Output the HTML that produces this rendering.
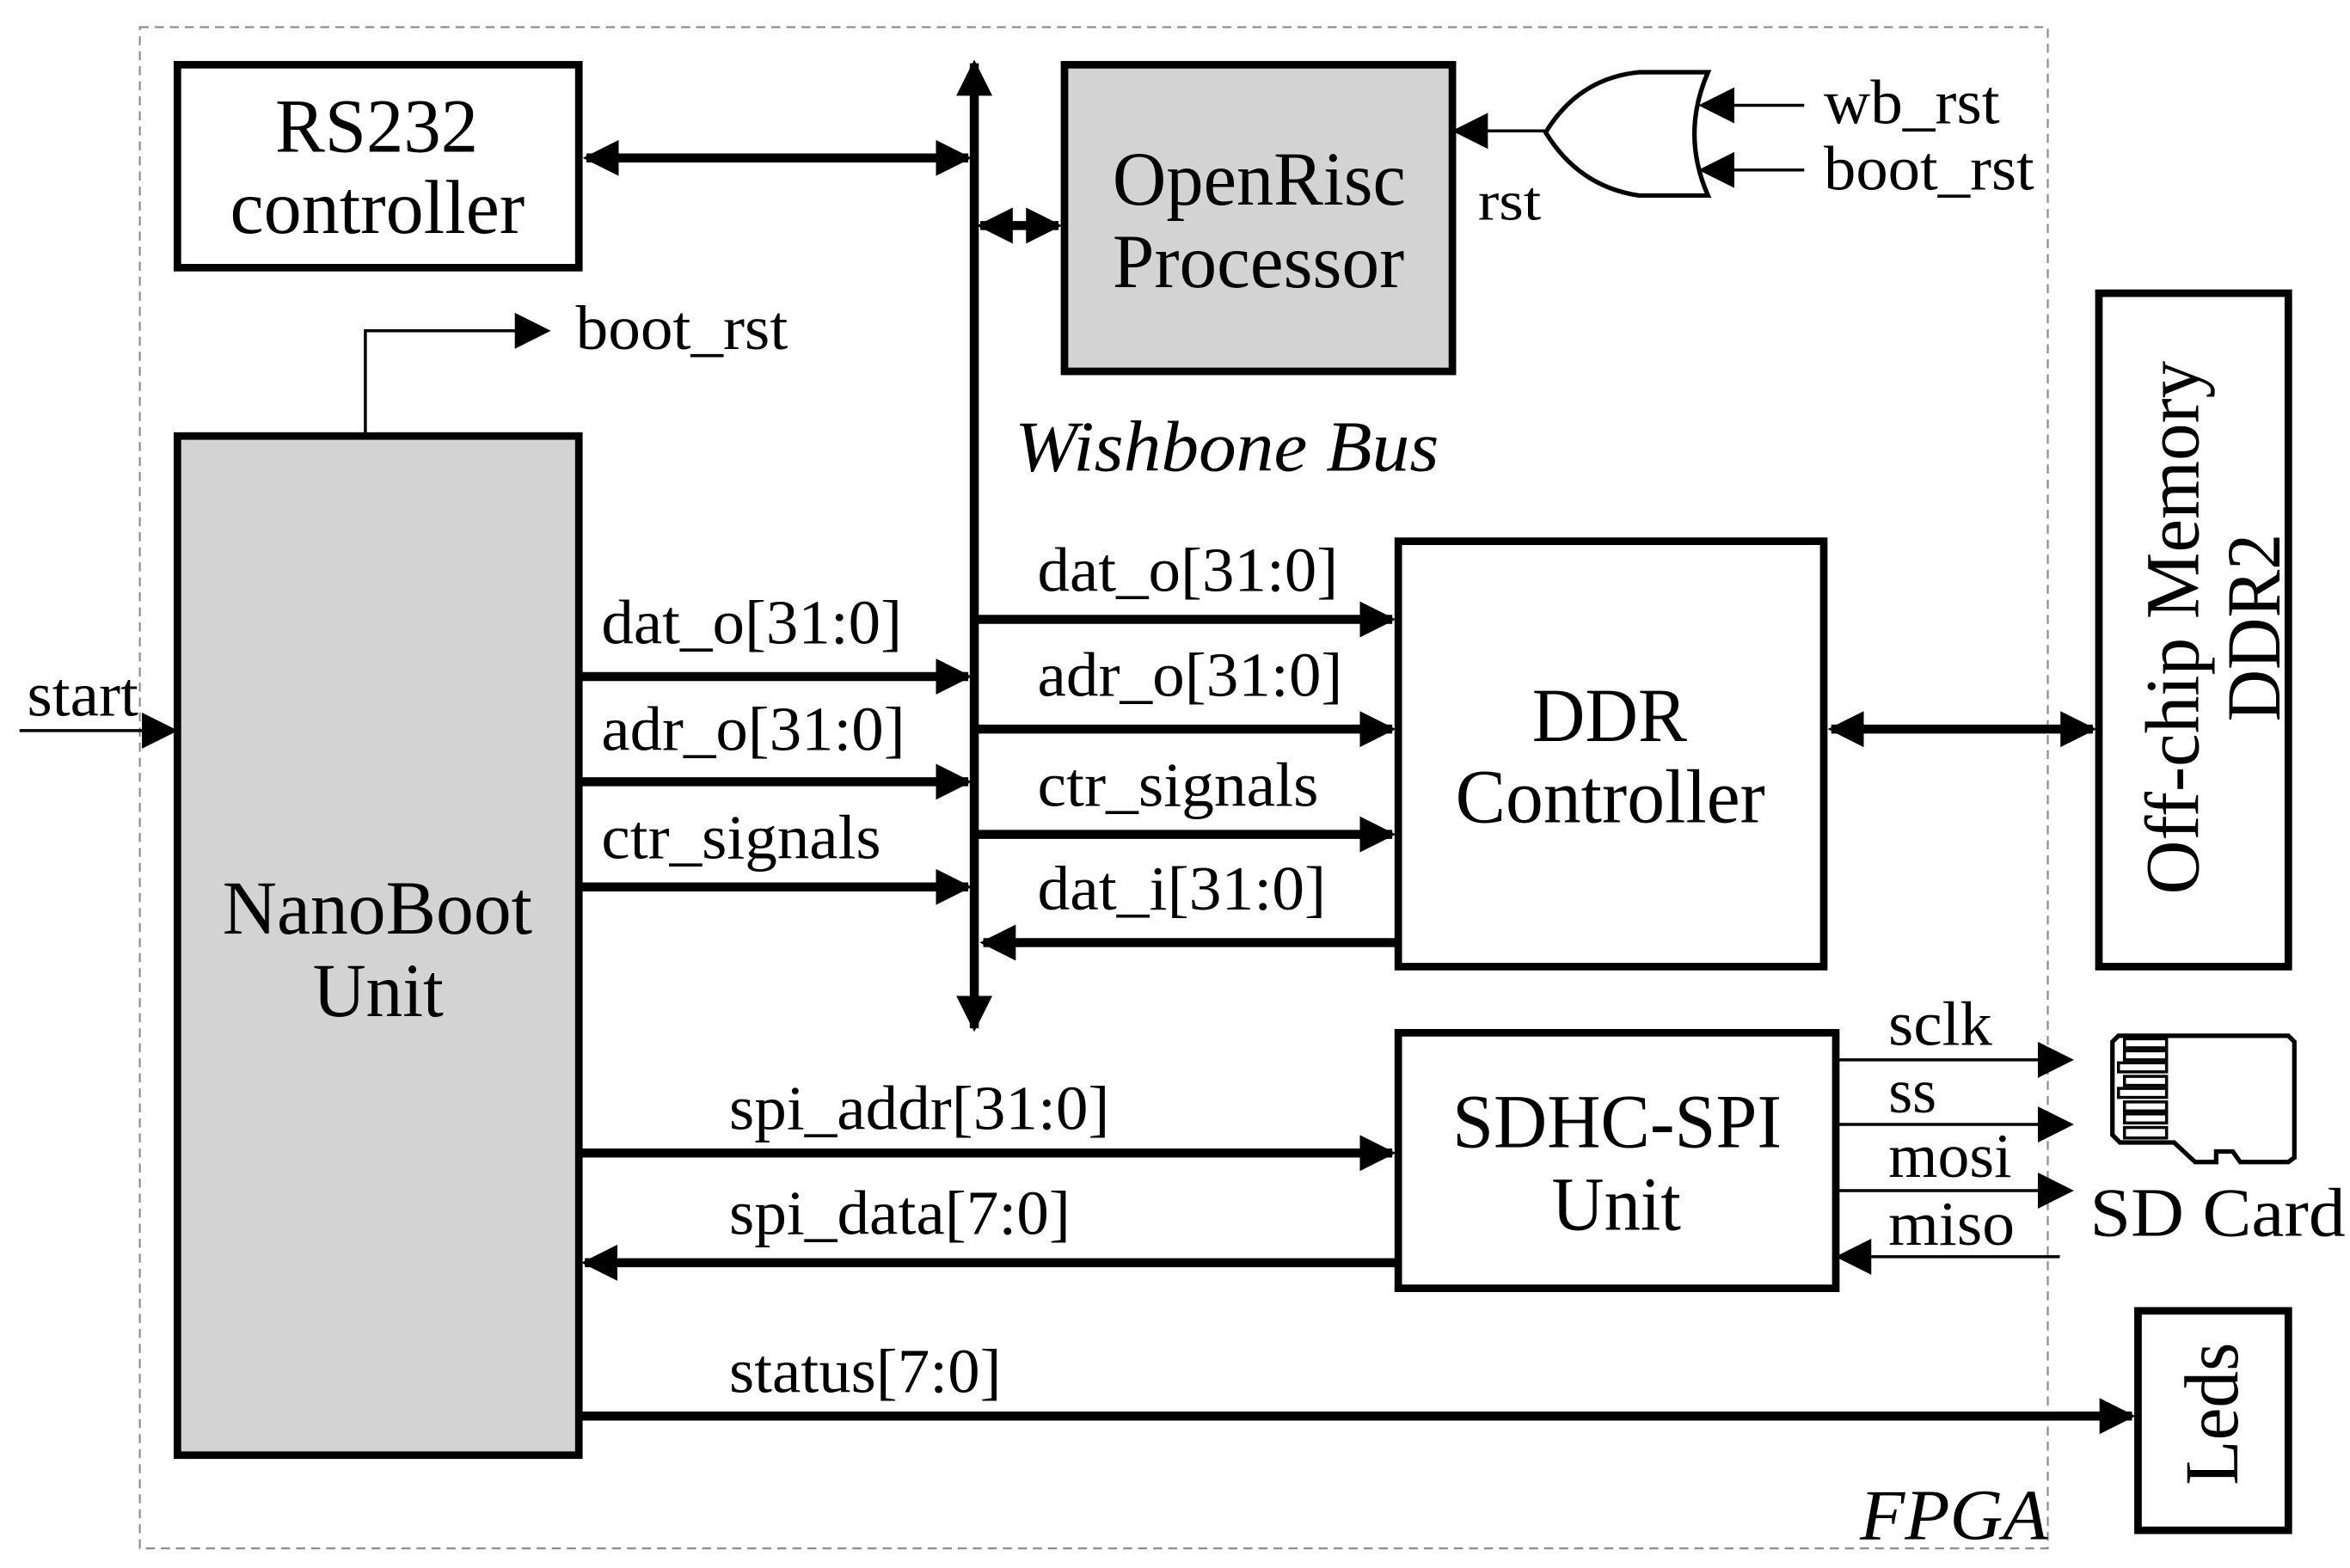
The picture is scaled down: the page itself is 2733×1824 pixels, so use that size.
<!DOCTYPE html>
<html><head><meta charset="utf-8"><style>
html,body{margin:0;padding:0;background:#fff;}
svg{display:block;}
text{font-family:"Liberation Serif",serif;fill:#000;}
</style></head><body>
<svg width="2733" height="1824" viewBox="0 0 1563 1043" xmlns="http://www.w3.org/2000/svg">
<defs>
<marker id="a" viewBox="0 0 10 10" refX="9" refY="5" markerWidth="4" markerHeight="4" orient="auto-start-reverse" markerUnits="strokeWidth"><path d="M0,0 L10,5 L0,10 z" fill="#000"/></marker>
<marker id="t" viewBox="0 0 10 10" refX="9" refY="5" markerWidth="12" markerHeight="12" orient="auto-start-reverse" markerUnits="strokeWidth"><path d="M0,0 L10,5 L0,10 z" fill="#000"/></marker>
</defs>
<rect x="93" y="18" width="1269" height="1012" fill="none" stroke="#888" stroke-width="1.2" stroke-dasharray="6,4"/>
<g stroke="#000" stroke-width="5">
<rect x="118" y="43" width="267" height="135" fill="#fff"/>
<rect x="708" y="43" width="258" height="204" fill="#d3d3d3"/>
<rect x="118" y="290" width="267" height="678" fill="#d3d3d3"/>
<rect x="930" y="360" width="283" height="283" fill="#fff"/>
<rect x="1396" y="195" width="126" height="448" fill="#fff"/>
<rect x="930" y="687" width="291" height="170" fill="#fff"/>
<rect x="1422" y="872" width="100" height="146" fill="#fff"/>
</g>
<g stroke="#000" stroke-width="6" fill="none">
<line x1="648" y1="42" x2="648" y2="684" marker-start="url(#a)" marker-end="url(#a)"/>
<line x1="390" y1="105" x2="644" y2="105" marker-start="url(#a)" marker-end="url(#a)"/>
<line x1="652" y1="150" x2="704" y2="150" marker-start="url(#a)" marker-end="url(#a)"/>
<line x1="385" y1="450" x2="644" y2="450" marker-end="url(#a)"/>
<line x1="385" y1="520" x2="644" y2="520" marker-end="url(#a)"/>
<line x1="385" y1="590" x2="644" y2="590" marker-end="url(#a)"/>
<line x1="650" y1="412" x2="926" y2="412" marker-end="url(#a)"/>
<line x1="650" y1="485" x2="926" y2="485" marker-end="url(#a)"/>
<line x1="650" y1="555" x2="926" y2="555" marker-end="url(#a)"/>
<line x1="930" y1="627" x2="654" y2="627" marker-end="url(#a)"/>
<line x1="1218" y1="485" x2="1392" y2="485" marker-start="url(#a)" marker-end="url(#a)"/>
<line x1="385" y1="767" x2="926" y2="767" marker-end="url(#a)"/>
<line x1="930" y1="840" x2="389" y2="840" marker-end="url(#a)"/>
<line x1="385" y1="942" x2="1418" y2="942" marker-end="url(#a)"/>
</g>
<g stroke="#000" stroke-width="2" fill="none">
<line x1="13" y1="486" x2="116" y2="486" marker-end="url(#t)"/>
<polyline points="243,290 243,220 364,220" marker-end="url(#t)"/>
<line x1="1028" y1="87" x2="968" y2="87" marker-end="url(#t)"/>
<line x1="1200" y1="70" x2="1132" y2="70" marker-end="url(#t)"/>
<line x1="1200" y1="113" x2="1132" y2="113" marker-end="url(#t)"/>
<line x1="1221" y1="705" x2="1377" y2="705" marker-end="url(#t)"/>
<line x1="1221" y1="748" x2="1377" y2="748" marker-end="url(#t)"/>
<line x1="1221" y1="792" x2="1377" y2="792" marker-end="url(#t)"/>
<line x1="1370" y1="836" x2="1223" y2="836" marker-end="url(#t)"/>
</g>
<path d="M1028,88 Q1050,52 1090,48 L1136,48 Q1118,89 1136,130 L1090,130 Q1050,124 1028,88 Z" fill="#fff" stroke="#000" stroke-width="3"/>
<g fill="none" stroke="#000" stroke-width="3">
<path d="M1409,689 L1522,689 L1526,693 L1526,770 L1522,773 L1490,773 L1485,766 L1474,766 L1474,773 L1460,773 L1446,760 L1410,760 L1405,755 L1405,693 Z"/>
</g>
<g fill="#fff" stroke="#000" stroke-width="2">
<rect x="1413" y="691" width="28" height="6"/>
<rect x="1413" y="699" width="28" height="6"/>
<rect x="1409" y="707" width="32" height="6"/>
<rect x="1413" y="716" width="28" height="6"/>
<rect x="1409" y="724" width="32" height="6"/>
<rect x="1413" y="733" width="28" height="6"/>
<rect x="1413" y="741" width="28" height="6"/>
<rect x="1413" y="750" width="28" height="7"/>
</g>
<g font-size="51">
<text x="183" y="101" textLength="135" lengthAdjust="spacingAndGlyphs">RS232</text>
<text x="153" y="155" textLength="196" lengthAdjust="spacingAndGlyphs">controller</text>
<text x="740" y="136" textLength="195" lengthAdjust="spacingAndGlyphs">OpenRisc</text>
<text x="740" y="191" textLength="194" lengthAdjust="spacingAndGlyphs">Processor</text>
<text x="148" y="621" textLength="206" lengthAdjust="spacingAndGlyphs">NanoBoot</text>
<text x="208" y="676" textLength="87" lengthAdjust="spacingAndGlyphs">Unit</text>
<text x="1019" y="493" textLength="103" lengthAdjust="spacingAndGlyphs">DDR</text>
<text x="968" y="547" textLength="206" lengthAdjust="spacingAndGlyphs">Controller</text>
<text x="966" y="763" textLength="219" lengthAdjust="spacingAndGlyphs">SDHC-SPI</text>
<text x="1032" y="818" textLength="86" lengthAdjust="spacingAndGlyphs">Unit</text>
<text transform="translate(1459,595) rotate(-90)" x="0" y="3" textLength="355" lengthAdjust="spacingAndGlyphs">Off-chip Memory</text>
<text transform="translate(1459,480) rotate(-90)" x="0" y="57" textLength="125" lengthAdjust="spacingAndGlyphs">DDR2</text>
<text transform="translate(1472,988) rotate(-90)" x="0" y="16" textLength="95" lengthAdjust="spacingAndGlyphs">Leds</text>
</g>
<g font-size="42">
<text x="18" y="476" textLength="74" lengthAdjust="spacingAndGlyphs">start</text>
<text x="383" y="232" textLength="141" lengthAdjust="spacingAndGlyphs">boot_rst</text>
<text x="983" y="146" font-size="37" textLength="42" lengthAdjust="spacingAndGlyphs">rst</text>
<text x="1213" y="82" textLength="117" lengthAdjust="spacingAndGlyphs">wb_rst</text>
<text x="1213" y="126" textLength="140" lengthAdjust="spacingAndGlyphs">boot_rst</text>
<text x="400" y="428" textLength="200" lengthAdjust="spacingAndGlyphs">dat_o[31:0]</text>
<text x="400" y="499" textLength="202" lengthAdjust="spacingAndGlyphs">adr_o[31:0]</text>
<text x="400" y="571" textLength="186" lengthAdjust="spacingAndGlyphs">ctr_signals</text>
<text x="690" y="393" textLength="200" lengthAdjust="spacingAndGlyphs">dat_o[31:0]</text>
<text x="690" y="463" textLength="203" lengthAdjust="spacingAndGlyphs">adr_o[31:0]</text>
<text x="690" y="536" textLength="187" lengthAdjust="spacingAndGlyphs">ctr_signals</text>
<text x="690" y="605" textLength="192" lengthAdjust="spacingAndGlyphs">dat_i[31:0]</text>
<text x="485" y="751" textLength="253" lengthAdjust="spacingAndGlyphs">spi_addr[31:0]</text>
<text x="485" y="821" textLength="227" lengthAdjust="spacingAndGlyphs">spi_data[7:0]</text>
<text x="485" y="926" textLength="181" lengthAdjust="spacingAndGlyphs">status[7:0]</text>
<text x="1256" y="695" textLength="69" lengthAdjust="spacingAndGlyphs">sclk</text>
<text x="1256" y="740" textLength="32" lengthAdjust="spacingAndGlyphs">ss</text>
<text x="1256" y="783" textLength="82" lengthAdjust="spacingAndGlyphs">mosi</text>
<text x="1256" y="828" textLength="84" lengthAdjust="spacingAndGlyphs">miso</text>
<text x="1390" y="822" font-size="46" textLength="170" lengthAdjust="spacingAndGlyphs">SD Card</text>
</g>
<g font-size="48" font-style="italic">
<text x="675" y="313" textLength="282" lengthAdjust="spacingAndGlyphs">Wishbone Bus</text>
<text x="1237" y="1024" textLength="125" lengthAdjust="spacingAndGlyphs">FPGA</text>
</g>
</svg>
</body></html>
